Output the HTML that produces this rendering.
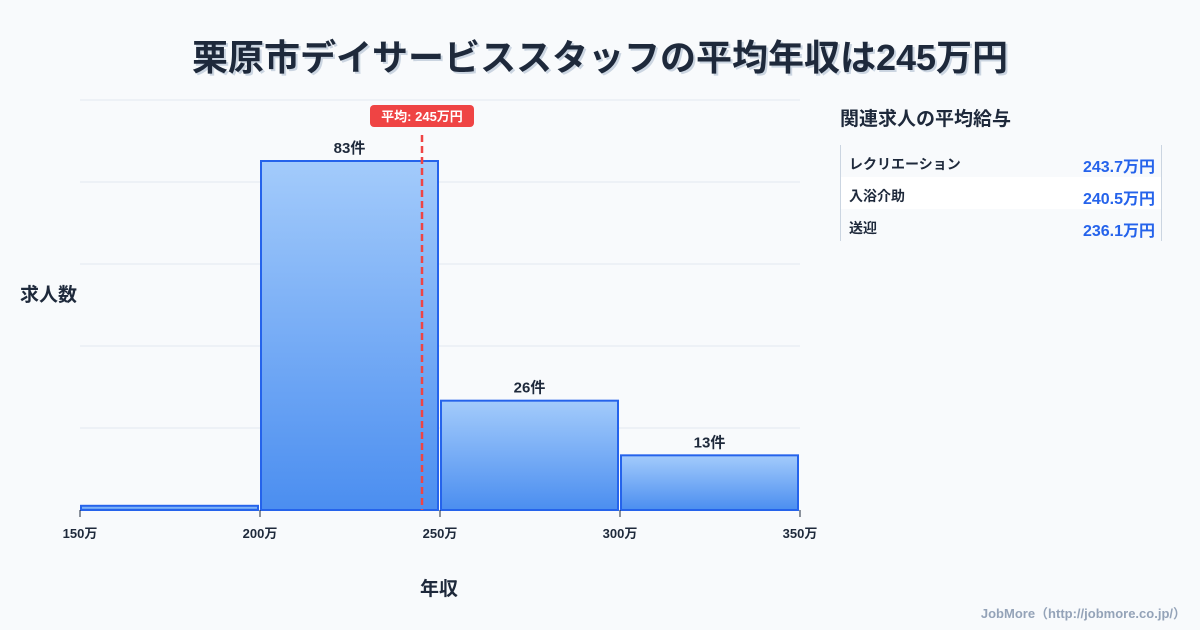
<!DOCTYPE html>
<html><head><meta charset="utf-8"><style>
body{margin:0;width:1200px;height:630px;background:#f8fafc;font-family:"Liberation Sans","Noto Sans CJK JP",sans-serif;overflow:hidden;position:relative}
.t{position:absolute;white-space:nowrap}
</style></head><body>
<div class="t" style="left:0;width:1200px;text-align:center;top:29px;font-size:36px;font-weight:bold;color:#1e293b;text-shadow:2px 2px 0 #cbd5e1">栗原市デイサービススタッフの平均年収は245万円</div>
<svg id="chart" width="1200" height="630" style="position:absolute;left:0;top:0">
<defs><linearGradient id="g" x1="0" y1="0" x2="0" y2="1"><stop offset="0" stop-color="#a3cbfb"/><stop offset="1" stop-color="#4b8ef0"/></linearGradient></defs>
</svg>
<div class="t" style="left:20px;top:280px;font-size:19px;font-weight:bold;color:#1e293b">求人数</div>
<div class="t" style="left:420px;top:574px;font-size:19px;font-weight:bold;color:#1e293b">年収</div>
<div class="t" style="left:840px;top:104px;font-size:19px;font-weight:bold;color:#1e293b">関連求人の平均給与</div>
<div style="position:absolute;left:840px;top:145px;width:320px;height:96px;border-left:1px solid #cbd5e1;border-right:1px solid #cbd5e1">
<div style="height:32px;position:relative;font-weight:bold"><span class="t" style="left:8px;top:9px;font-size:14px;color:#1e293b">レクリエーション</span><span class="t" style="right:6px;top:8px;font-size:16px;color:#2563eb">243.7万円</span></div>
<div style="height:32px;position:relative;background:#fff;font-weight:bold"><span class="t" style="left:8px;top:9px;font-size:14px;color:#1e293b">入浴介助</span><span class="t" style="right:6px;top:8px;font-size:16px;color:#2563eb">240.5万円</span></div>
<div style="height:32px;position:relative;font-weight:bold"><span class="t" style="left:8px;top:9px;font-size:14px;color:#1e293b">送迎</span><span class="t" style="right:6px;top:8px;font-size:16px;color:#2563eb">236.1万円</span></div>
</div>
<div class="t" style="right:14px;top:603px;font-size:13px;font-weight:bold;color:#94a3b8">JobMore（http://jobmore.co.jp/）</div>
<script>
const binStarts=[150,200,250,300];
const binEnds=[200,250,300,350];
const counts=[1,83,26,13];
const countLabels=["","83件","26件","13件"];
const xTicks=[150,200,250,300,350];
const avgValue=245;
const avgLabel="平均: 245万円";
const NS="http://www.w3.org/2000/svg",svg=document.getElementById('chart');
const X0=80,X1=800,Y0=510,YMAX=83/349*410;
const x=v=>X0+(v-150)/(350-150)*(X1-X0);
const y=v=>Y0-v/YMAX*410;
function mk(t,a){const e=document.createElementNS(NS,t);for(const k in a)e.setAttribute(k,a[k]);svg.appendChild(e);return e;}
for(let i=0;i<=5;i++){const g=mk('line',{x1:X0,x2:X1,y1:Y0-i*82,y2:Y0-i*82,stroke:'#e2e8f0','stroke-width':1});

}
counts.forEach((c,i)=>{const x1=x(binStarts[i])+1,x2=x(binEnds[i])-2,yt=y(c);
const r=mk('rect',{x:x1,y:yt,width:x2-x1,height:Y0-yt,fill:'url(#g)',stroke:'#2563eb','stroke-width':2});


if(countLabels[i]){const t=mk('text',{x:(x1+x2)/2,y:yt-8,'text-anchor':'middle','font-size':15,'font-weight':'bold',fill:'#1e293b'});t.textContent=countLabels[i];

}});
xTicks.forEach(v=>{const l=mk('line',{x1:x(v),x2:x(v),y1:Y0,y2:Y0+7,stroke:'#1e293b'});


const t=mk('text',{x:x(v),y:Y0+28,'text-anchor':'middle','font-size':13,'font-weight':'bold',fill:'#1e293b'});t.textContent=v+'万';

});
const ax=x(avgValue);
const al=mk('line',{x1:ax,x2:ax,y1:135,y2:Y0,stroke:'#ef4444','stroke-width':2.5,'stroke-dasharray':'7,4'});


const bg=mk('rect',{x:ax-52,y:105,width:104,height:22,rx:4,fill:'#ef4444'});


const at=mk('text',{x:ax,y:121,'text-anchor':'middle','font-size':13,'font-weight':'bold',fill:'#fff'});at.textContent=avgLabel;


</script>
</body></html>
